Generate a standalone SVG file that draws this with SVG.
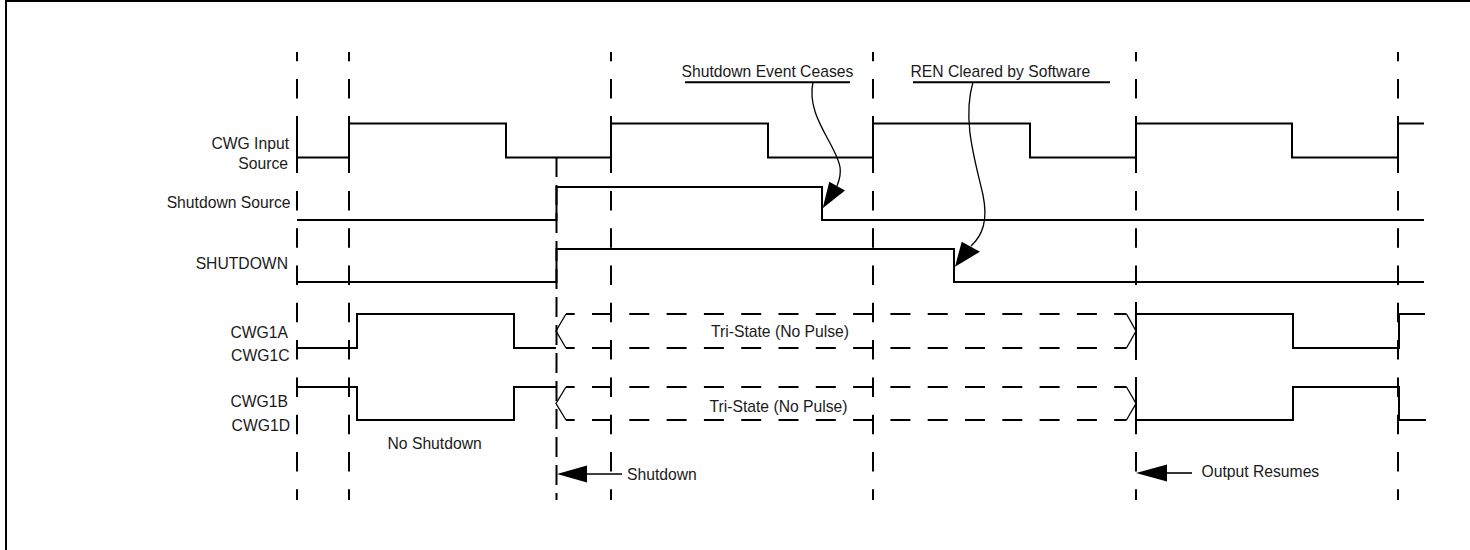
<svg xmlns="http://www.w3.org/2000/svg" width="1470" height="550" viewBox="0 0 1470 550">
<defs>
<style>
.sig{fill:none;stroke:#000;stroke-width:2;stroke-linejoin:miter;stroke-linecap:butt}
.grid{fill:none;stroke:#000;stroke-width:2;stroke-dasharray:19.5 17.8;stroke-dashoffset:10.3}
.tick{fill:none;stroke:#000;stroke-width:2}
.tri{fill:none;stroke:#000;stroke-width:2;stroke-dasharray:20 17.3;stroke-dashoffset:11.3}
.slash{fill:none;stroke:#000;stroke-width:1.3}
.curve{fill:none;stroke:#000;stroke-width:1.3}
.lbl{font-family:"Liberation Sans",Arial,sans-serif;font-size:15.7px;fill:#1a1a1a}
.end{text-anchor:end}
.mid{text-anchor:middle}
</style>
</defs>
<rect width="1470" height="550" fill="#fff"/>
<g id="frame">
<line x1="6" y1="0" x2="6" y2="550" stroke="#000" stroke-width="2"/>
<line x1="5" y1="1" x2="1470" y2="1" stroke="#000" stroke-width="2"/>
</g>
<g id="gridlines">
<line class="grid" x1="297" y1="52" x2="297" y2="500"/>
<line class="grid" x1="349" y1="52" x2="349" y2="500"/>
<line class="grid" x1="611" y1="52" x2="611" y2="500"/>
<line class="grid" x1="873" y1="52" x2="873" y2="500"/>
<line class="grid" x1="1136" y1="52" x2="1136" y2="500"/>
<line class="grid" x1="1398" y1="52" x2="1398" y2="500"/>
<line x1="556.5" y1="157" x2="556.5" y2="500" stroke="#000" stroke-width="2" stroke-dasharray="20 8"/>
<path class="tick" d="M297 116V173M349 116V173M611 116V173M873 116V173M1136 116V173M1398 116V173M1136 302V360M1136 377V434"/>
</g>
<g id="cwg-input-source">
<text class="lbl end" x="289" y="149">CWG Input</text>
<text class="lbl end" x="288" y="168.5">Source</text>
<path class="sig" d="M297 157.5H349V123.5H506V157.5H611V123.5H768V157.5H873V123.5H1030V157.5H1136V123.5H1292V157.5H1398V123.5H1424"/>
</g>
<g id="shutdown-source">
<text class="lbl end" x="290.5" y="208">Shutdown Source</text>
<path class="sig" d="M297 220H556.5V187H822V220H1424"/>
</g>
<g id="shutdown">
<text class="lbl end" x="288" y="269">SHUTDOWN</text>
<path class="sig" d="M297 282H556.5V249H954V282H1424"/>
</g>
<g id="cwg1a-cwg1c">
<text class="lbl end" x="288" y="338">CWG1A</text>
<text class="lbl end" x="289.5" y="360.5">CWG1C</text>
<path class="sig" d="M297 348H357V314H514V348H556"/>
<path class="slash" d="M566 314L556 331L566 348"/>
<line class="tri" x1="566" y1="314" x2="1126.5" y2="314"/>
<line class="tri" x1="566" y1="348" x2="1126.5" y2="348"/>
<path class="slash" d="M1126.5 314L1136 331L1126.5 348"/>
<text class="lbl mid" x="780" y="336.5">Tri-State (No Pulse)</text>
<path class="sig" d="M1136 314H1293V348H1399V314H1425"/>
</g>
<g id="cwg1b-cwg1d">
<text class="lbl end" x="288" y="407">CWG1B</text>
<text class="lbl end" x="290" y="430.5">CWG1D</text>
<path class="sig" d="M297 387H357V420H514V387H556"/>
<path class="slash" d="M566 387L556 403.5L566 420"/>
<line class="tri" x1="566" y1="387" x2="1126.5" y2="387"/>
<line class="tri" x1="566" y1="420" x2="1126.5" y2="420"/>
<path class="slash" d="M1126.5 387L1136 403.5L1126.5 420"/>
<text class="lbl mid" x="778.5" y="411.5">Tri-State (No Pulse)</text>
<path class="sig" d="M1136 420H1293V387H1399V420H1426"/>
</g>
<g id="no-shutdown">
<text class="lbl" x="387.5" y="449">No Shutdown</text>
</g>
<g id="shutdown-event-ceases">
<text class="lbl" x="681.5" y="76.5">Shutdown Event Ceases</text>
<line x1="685" y1="82.3" x2="850" y2="82.3" stroke="#000" stroke-width="2"/>
</g>
<g id="ren-cleared">
<text class="lbl" x="910.5" y="76.5">REN Cleared by Software</text>
<line x1="913" y1="82.3" x2="1110" y2="82.3" stroke="#000" stroke-width="2"/>
</g>
<g id="shutdown-marker">
<text class="lbl" x="627" y="480">Shutdown</text>
</g>
<g id="output-resumes">
<text class="lbl" x="1201.5" y="477">Output Resumes</text>
</g>
<g id="connectors">
<path class="curve" d="M813 82C808 106 821 126 831 145S843 171 837 186"/>
<polygon points="822.7,208.3 829.3,181.7 845,190.5" fill="#000"/>
<path class="curve" d="M973 82C962 120 975 160 983 195C988 220 983 235 971 246"/>
<polygon points="955,266.7 961.7,241.7 980,251.7" fill="#000"/>
<line x1="586" y1="474" x2="622" y2="474" stroke="#000" stroke-width="1.6"/>
<polygon points="557,474 587,465.5 587,482.5" fill="#000"/>
<line x1="1166" y1="473" x2="1192" y2="473" stroke="#000" stroke-width="1.6"/>
<polygon points="1136,473 1167,464.5 1167,481.5" fill="#000"/>
</g>
</svg>
